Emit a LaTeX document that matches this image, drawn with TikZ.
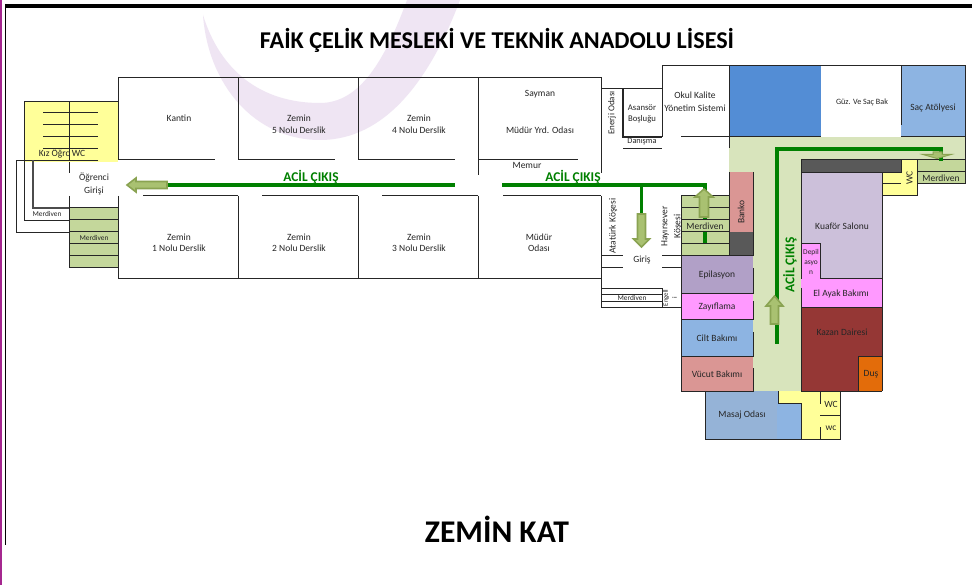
\documentclass[tikz,border=0pt]{standalone}
\usepackage{fontspec}
\setmainfont{Carlito}
\definecolor{wmark}{HTML}{EFE5F3}
\definecolor{frameP}{HTML}{A5278F}
\definecolor{wcY}{HTML}{FFFF99}
\definecolor{stairG}{HTML}{C4D79B}
\definecolor{corrG}{HTML}{D8E4BC}
\definecolor{exitG}{HTML}{008000}
\definecolor{arrF}{HTML}{A9C171}
\definecolor{arrD}{HTML}{8AA352}
\definecolor{blueA}{HTML}{538DD5}
\definecolor{blueB}{HTML}{8DB4E2}
\definecolor{blueC}{HTML}{95B3D7}
\definecolor{roseA}{HTML}{DA9694}
\definecolor{darkG}{HTML}{595959}
\definecolor{lilac}{HTML}{CCC0DA}
\definecolor{purp}{HTML}{B1A0C7}
\definecolor{pinkA}{HTML}{FF99FF}
\definecolor{brick}{HTML}{953735}
\definecolor{orng}{HTML}{E36C0A}
\tikzset{
  x=1pt,y=-1pt,
  wall/.style={draw=black!85,line width=1pt},
  thin wall/.style={draw=black!85,line width=0.8pt},
  lab/.style={font=\fontsize{9.5}{10}\selectfont,text=black!85,inner sep=0pt,align=center},
  small lab/.style={font=\fontsize{7.4}{8}\selectfont,text=black!85,inner sep=0pt,align=center},
  exit line/.style={draw=exitG,line width=3.6pt},
  exit lab/.style={font=\fontsize{13.4}{15}\selectfont\bfseries,text=exitG,inner sep=0pt},
  flee/.style={fill=arrF,draw=arrD,line width=1.6pt,line join=miter},
}
\begin{document}
\begin{tikzpicture}
\useasboundingbox (0,0) rectangle (972,585);
\fill[white] (0,0) rectangle (972,585);
% watermark
\fill[wmark] (203,15) .. controls (208,85) and (255,140) .. (320,140)
  .. controls (385,140) and (430,80) .. (460,0) -- (407,0)
  .. controls (385,60) and (360,103) .. (320,103)
  .. controls (260,103) and (220,70) .. (203,15) -- cycle;
% frame
\fill[frameP] (0,0) rectangle (2,585);
\fill[black] (5,4) rectangle (972,8);
\draw[black,line width=1pt] (5.5,4) -- (5.5,545);
% titles
\node[font=\fontsize{24.1}{26}\selectfont\bfseries,inner sep=0pt] (title) at (497,40) {FAİK ÇELİK MESLEKİ VE TEKNİK ANADOLU LİSESİ};
\node[font=\fontsize{31.6}{34}\selectfont\bfseries,inner sep=0pt] (floor) at (497,529) {ZEMİN KAT};
% fills west
\fill[wcY] (24,102) rectangle (118,162);
\fill[white] (17,162) rectangle (118,196);
\fill[stairG] (69,208) rectangle (118,268);
% fills east
\fill[blueA] (729,66) rectangle (821,137);
\fill[blueB] (901,66) rectangle (965,137);
\fill[corrG] (729,137) rectangle (965,160);
\fill[corrG] (729,137) rectangle (801,391);
\fill[stairG] (681,196) rectangle (729,256);
\fill[stairG] (917,160) rectangle (965,184);
\fill[roseA] (729,172) rectangle (753,232);
\fill[darkG] (729,232) rectangle (753,256);
\fill[darkG] (801,160) rectangle (901,173);
\fill[wcY] (901,160) -- (917,160) -- (917,196) -- (882,196) -- (882,173) -- (901,173) -- cycle;
\fill[lilac] (801,173) rectangle (882,279);
\fill[pinkA] (801,279) rectangle (882,308);
\fill[pinkA] (801,244) rectangle (820,279);
\fill[brick] (801,308) rectangle (882,391);
\fill[orng] (858,356) rectangle (882,391);
\fill[purp] (681,256) rectangle (753,294);
\fill[pinkA] (681,294) rectangle (753,320);
\fill[blueB] (681,320) rectangle (753,356);
\fill[roseA] (681,356) rectangle (753,391);
\fill[blueB] (705,391) rectangle (801,439);
\fill[blueC] (705,391) rectangle (777,439);
\fill[wcY] (778,391) -- (840,391) -- (840,439) -- (801,439) -- (801,403) -- (778,403) -- cycle;
% exit lines under the stair label band
\draw[exit line] (705,185) -- (705,244);
\fill[stairG] (681,220) rectangle (729,232);
% walls west
\draw[wall] (69,102) -- (24,102) -- (24,160);
\draw[wall] (69,102) -- (118,102);
\draw[wall] (69,102) -- (69,160);
\foreach \yy in {113,125,137,149}{\draw[wall] (43,\yy) -- (98,\yy);}
\draw[thin wall] (98,160.5) -- (16,160.5) -- (16,232) -- (69,232);
\draw[thin wall] (24.5,160.5) -- (24.5,220) -- (69,220);
\draw[wall,draw=black!70,line width=1.1pt] (33,160.5) -- (33,208) -- (69,208);
\draw[wall] (69,162) -- (69,173);
\draw[wall] (69,196) -- (69,268);
\foreach \yy in {208,220,232,244,256,268}{\draw[wall] (69,\yy) -- (118,\yy);}
% walls classrooms
\draw[wall] (118,160) -- (118,78) -- (601,78) -- (601,173);
\draw[wall] (118,196) -- (118,279) -- (601,279);
\foreach \xx in {238,358}{\draw[wall] (\xx,78) -- (\xx,160); \draw[wall] (\xx,196) -- (\xx,279);}
\draw[wall] (478,78) -- (478,175);
\draw[wall] (478,196) -- (478,279);
\draw[wall] (118,160) -- (215,160);
\draw[wall] (238,160) -- (335,160);
\draw[wall] (358,160) -- (455,160);
\draw[wall] (478,160) -- (578,160);
\draw[wall] (143,196) -- (238,196);
\draw[wall] (262,196) -- (358,196);
\draw[wall] (382,196) -- (478,196);
\draw[wall] (503,196) -- (601,196);
% walls centre
\draw[wall] (601,89) -- (662,89);
\draw[wall,line width=1.1pt] (623,89) -- (623,137) -- (662,137);
\draw[wall] (623,149) -- (662,149);
\draw[wall] (662,137) -- (662,66) -- (965,66) -- (965,184) -- (917,184);
\draw[wall] (681,137) -- (821,137);
\draw[wall] (901,137) -- (965,137);
\draw[wall] (729,66) -- (729,148);
\draw[wall] (901.5,66) -- (901.5,125);
\draw[wall] (601,196) -- (601,308) -- (681,308);
\draw[wall] (601,255.5) -- (623,255.5); \draw[wall] (662,255.5) -- (681,255.5);
\draw[wall] (601,268) -- (623,268); \draw[wall] (662,268) -- (681,268);
\draw[thin wall] (601,288) -- (662,288) -- (662,308);
\draw[thin wall] (601,294.5) -- (662,294.5);
\draw[thin wall] (601,301) -- (662,301);
\draw[wall] (681,196) -- (681,391);
\foreach \yy in {196,208,220,232,244}{\draw[wall] (681,\yy) -- (729,\yy);}
\draw[wall] (681,256) -- (753,256);
\draw[wall] (729,172) -- (729,256);
\draw[wall] (753,172) -- (753,256);
\draw[wall] (753,268) -- (753,294) -- (681,294);
\draw[wall] (753,301) -- (753,320) -- (681,320);
\draw[wall] (753,332) -- (753,356) -- (681,356);
\draw[wall] (753,368) -- (753,391) -- (681,391);
% walls east
\draw[wall] (801,279) -- (801,160) -- (965,160);
\draw[wall] (801,173) -- (901,173) -- (901,160);
\draw[wall] (882,173) -- (882,196) -- (917,196) -- (917,160);
\draw[wall] (882,184) -- (901,184);
\draw[wall] (917,172) -- (965,172);
\draw[wall] (801,244) -- (820,244) -- (820,279) -- (882,279);
\draw[wall] (882,173) -- (882,391);
\draw[wall] (801,288) -- (801,391);
\draw[wall] (801,308) -- (882,308);
\draw[wall] (858,391) -- (858,356) -- (882,356);
\draw[wall] (801,391) -- (882,391);
\draw[wall] (705,391) -- (705,439) -- (840,439) -- (840,391) -- (820,391);
\draw[wall] (778,391) -- (778,403) -- (801,403) -- (801,439);
\draw[wall] (820,391) -- (820,404);
\draw[wall] (820,415) -- (840,415);
\draw[wall] (820,427) -- (820,439);
% exit lines
\draw[exit line] (168,185) -- (455,185);
\draw[exit line] (502,185) -- (707,185);
\draw[exit line] (641.5,185) -- (641.5,214);
\draw[exit line] (943,149) -- (777,149) -- (777,344);
\draw[exit line] (941,149) -- (941,161);
% exit arrows
\draw[flee] (127,185) -- (136,178) -- (136,181.5) -- (167,181.5) -- (167,188.5) -- (136,188.5) -- (136,192) -- cycle;
\draw[flee] (641.5,247) -- (633.5,239) -- (637.5,239) -- (637.5,214) -- (645.5,214) -- (645.5,239) -- (649.5,239) -- cycle;
\draw[flee] (704,189) -- (695,197) -- (699.5,197) -- (699.5,217) -- (708.5,217) -- (708.5,197) -- (713,197) -- cycle;
\draw[flee] (774.5,296) -- (766,306) -- (770.5,306) -- (770.5,324) -- (778.5,324) -- (778.5,306) -- (783,306) -- cycle;
\draw[flee,line width=1pt] (937,158.5) -- (923,154.5) -- (933,154.5) -- (933,152) -- (942,152) -- (942,154.5) -- (951,154.5) -- cycle;
% labels
\node[lab] (kantin) at (179,118) {Kantin};
\node[lab] (r5) at (299,124.5) {Zemin\\[2pt]5 Nolu Derslik};
\node[lab] (r4) at (419,124.5) {Zemin\\[2pt]4 Nolu Derslik};
\node[lab] (sayman) at (540,94) {Sayman};
\node[lab] (myo) at (540,130) {Müdür Yrd. Odası};
\node[lab] (memur) at (527,165) {Memur};
\node[lab] (r1) at (179,243) {Zemin\\[1pt]1 Nolu Derslik};
\node[lab] (r2) at (299,243) {Zemin\\[1pt]2 Nolu Derslik};
\node[lab] (r3) at (419,243) {Zemin\\[1pt]3 Nolu Derslik};
\node[lab] (mo) at (539,243) {Müdür\\[1pt]Odası};
\node[lab] (kwc) at (62,154) {Kız Öğrc WC};
\node[lab] (og) at (94,184) {Öğrenci\\[3.5pt]Girişi};
\node[small lab] (m1) at (47,214) {Merdiven};
\node[small lab] (m2) at (94,238) {Merdiven};
\node[exit lab] (e1) at (311,177) {ACİL ÇIKIŞ};
\node[exit lab] (e2) at (573,177) {ACİL ÇIKIŞ};
\node[exit lab,rotate=90] (e3) at (790,265) {ACİL ÇIKIŞ};
\node[lab,rotate=90,font=\fontsize{9}{10}\selectfont] (en) at (612,113) {Enerji Odası};
\node[lab,font=\fontsize{8.7}{10}\selectfont] (as) at (642,113.5) {Asansör\\[1pt]Boşluğu};
\node[lab,font=\fontsize{8.3}{10}\selectfont] (da) at (642,142) {Danışma};
\node[lab] (ok) at (695,101.5) {Okul Kalite\\[3pt]Yönetim Sistemi};
\node[lab,font=\fontsize{8.1}{10}\selectfont] (gu) at (862,102) {Güz. Ve Saç Bak};
\node[lab] (sa) at (933,108) {Saç Atölyesi};
\node[lab,rotate=90] (at) at (613,226) {Atatürk Köşesi};
\node[lab,rotate=90] (ha) at (671.5,226.5) {Hayırsever\\[3pt]Köşesi};
\node[lab] (gi) at (642,260) {Giriş};
\node[small lab] (m3) at (632,297.5) {Merdiven};
\node[small lab,rotate=90,font=\fontsize{6.8}{7}\selectfont] (ng) at (670,298) {Engell\\[2pt]i};
\node[lab] (m4) at (705,226) {Merdiven};
\node[lab,rotate=90] (ba) at (741,212) {Banko};
\node[lab] (ep) at (717,275) {Epilasyon};
\node[lab] (za) at (717,307) {Zayıflama};
\node[lab] (ci) at (717,338) {Cilt Bakımı};
\node[lab] (vu) at (717,374) {Vücut Bakımı};
\node[lab] (ma) at (742,415) {Masaj Odası};
\node[lab] (ku) at (842,226) {Kuaför Salonu};
\node[small lab] (de) at (811,262) {Depil\\[2pt]asyo\\[2pt]n};
\node[lab] (el) at (841,294) {El Ayak Bakımı};
\node[lab] (ka) at (842,332) {Kazan Dairesi};
\node[lab] (du) at (871,374) {Duş};
\node[lab,rotate=90] (w1) at (909.5,178) {WC};
\node[lab] (m5) at (941,178) {Merdiven};
\node[lab] (w2) at (831,404) {WC};
\node[lab] (w3) at (831,428) {wc};
\end{tikzpicture}
\end{document}
